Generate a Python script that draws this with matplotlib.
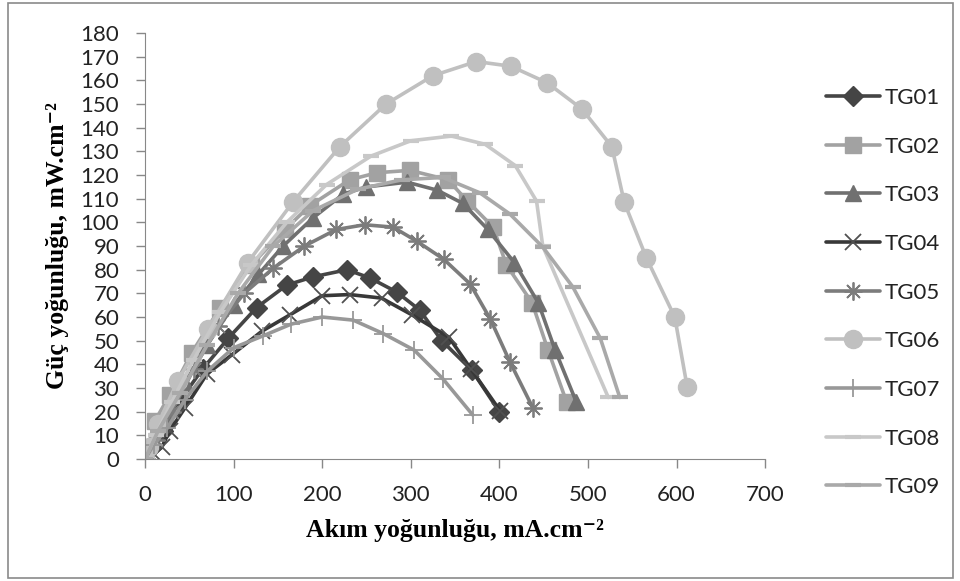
import matplotlib
matplotlib.use("Agg")
import matplotlib.pyplot as plt
from matplotlib.patches import Rectangle

# Current density (mA/cm2) and power density (mW/cm2) for each cell
tg01_x = [0, 8, 20, 40, 65, 94, 126, 160, 190, 228, 254, 284, 310, 335, 369, 400]
tg01_y = [0, 5, 12, 25, 38, 51, 64, 73.5, 77, 80, 76.5, 70.6, 63, 50, 37.5, 20]

tg02_x = [0, 11, 28, 53, 85, 120, 158, 186, 231, 262, 299, 342, 364, 393, 408, 437, 455, 476]
tg02_y = [0, 16, 27, 45, 64, 82, 97, 107, 118, 121, 122, 118, 109, 98, 82, 66, 46, 24]

tg03_x = [0, 10, 25, 45, 70, 100, 128, 156, 190, 224, 250, 296, 330, 359, 387, 417, 444, 463, 487]
tg03_y = [0, 8, 18, 32, 48, 65, 78, 90, 102, 112, 115, 117, 113.6, 108, 97, 83, 66, 46, 24]

tg04_x = [0, 10, 19, 28, 45, 70, 98, 132, 164, 200, 231, 267, 301, 343, 368, 401]
tg04_y = [0, 2, 5, 12, 21.5, 36, 44, 54, 61, 69, 69.5, 68, 61, 51.5, 38, 20.3]

tg05_x = [0, 12, 30, 55, 82, 112, 145, 180, 216, 248, 280, 307, 337, 367, 390, 412, 438]
tg05_y = [0, 8, 20, 38, 56, 70, 80.7, 90, 97, 99, 98, 92, 84.5, 74, 59, 41, 21.5]

tg06_x = [0, 5, 15, 37, 71, 116, 167, 220, 272, 325, 374, 413, 454, 493, 527, 541, 566, 598, 612]
tg06_y = [0, 5, 15, 33, 55, 83, 108.6, 132, 150, 162, 168, 166, 159, 148, 132, 108.5, 85, 60, 30.5]

tg07_x = [0, 10, 25, 45, 70, 100, 133, 165, 200, 235, 269, 304, 336, 370]
tg07_y = [0, 6, 13, 25, 37, 47, 52, 57, 60, 58.7, 53, 46, 34, 18.6]

tg08_x = [0, 12, 30, 55, 85, 120, 160, 205, 255, 300, 346, 384, 418, 442, 449, 523]
tg08_y = [0, 10, 24, 42, 62, 82, 100, 116, 128, 134.5, 136.5, 133, 124, 109, 90, 26]

tg09_x = [0, 15, 40, 70, 105, 145, 190, 240, 290, 336, 378, 412, 449, 483, 514, 536]
tg09_y = [0, 12, 28, 48, 70, 90, 105, 114, 118, 119, 112.5, 103.5, 89.6, 72.7, 51, 26]

labels = ["TG01", "TG02", "TG03", "TG04", "TG05", "TG06", "TG07", "TG08", "TG09"]
x_ticks = [0, 100, 200, 300, 400, 500, 600, 700]
y_ticks = list(range(0, 181, 10))

series = [
    (tg01_x, tg01_y, dict(color="#454545", marker="D", ms=10.5, mfc="#454545", mec="#454545")),
    (tg02_x, tg02_y, dict(color="#a2a2a2", marker="s", ms=11, mfc="#a2a2a2", mec="#a2a2a2")),
    (tg03_x, tg03_y, dict(color="#707070", marker="^", ms=12, mfc="#707070", mec="#707070")),
    (tg04_x, tg04_y, dict(color="#383838", marker="x", ms=11, mec="#505050", mew=1.3)),
    (tg05_x, tg05_y, dict(color="#7c7c7c", marker=(8, 2, 0), ms=13, mec="#7c7c7c", mew=1.3)),
    (tg06_x, tg06_y, dict(color="#c0c0c0", marker="o", ms=13, mfc="#c0c0c0", mec="#c0c0c0")),
    (tg07_x, tg07_y, dict(color="#989898", marker="+", ms=13, mec="#989898", mew=1.3)),
    (tg08_x, tg08_y, dict(color="#c8c8c8", marker="_", ms=11, mec="#c8c8c8", mew=3)),
    (tg09_x, tg09_y, dict(color="#a9a9a9", marker="_", ms=11, mec="#a9a9a9", mew=3)),
]

sans = ["Lato", "DejaVu Sans"]
serif = ["Liberation Serif", "DejaVu Serif"]

fig = plt.figure(figsize=(9.6, 5.81), dpi=100)
ax = fig.add_axes([0.151, 0.210, 0.646, 0.733])

for (xs, ys, style), lab in zip(series, labels):
    ax.plot(xs, ys, lw=2.6, label=lab, solid_capstyle="round", **style)

ax.set_xlim(0, 700)
ax.set_ylim(0, 180)
ax.set_xticks(x_ticks)
ax.set_yticks(y_ticks)
ax.tick_params(axis="both", labelsize=16, colors="#888888", labelcolor="#222222",
               length=6.5, width=1, direction="out", pad=12)
for side in ("top", "right"):
    ax.spines[side].set_visible(False)
for side in ("left", "bottom"):
    ax.spines[side].set_color("#888888")
for t in ax.get_xticklabels() + ax.get_yticklabels():
    t.set_family(sans)

ax.set_xlabel("Akım yoğunluğu, mA.cm⁻²", family=serif,
              fontweight="bold", fontsize=18.5, labelpad=10)
ax.set_ylabel("Güç yoğunluğu, mW.cm⁻²", family=serif,
              fontweight="bold", fontsize=18.5, labelpad=8)

leg = ax.legend(loc="upper left", bbox_to_anchor=(0.851, 0.864),
                bbox_transform=fig.transFigure, frameon=False,
                fontsize=16, handlelength=2.43, handletextpad=0.22, labelspacing=1.29,
                borderaxespad=0)
for t in leg.get_texts():
    t.set_family(sans)
    t.set_color("#222222")

fig.patches.append(Rectangle((0.008, 0.006), 0.985, 0.988, transform=fig.transFigure,
                             fill=False, edgecolor="#8a8a8a", lw=1.2))

fig.savefig("out.png", dpi=100)
